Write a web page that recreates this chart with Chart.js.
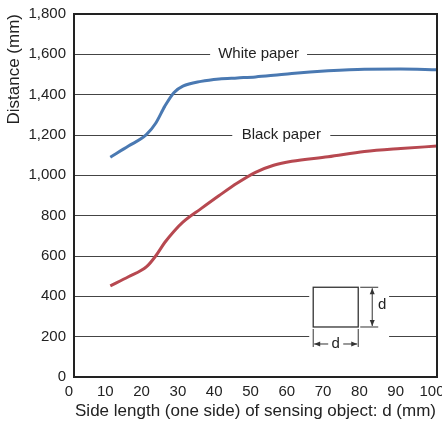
<!DOCTYPE html>
<html>
<head>
<meta charset="utf-8">
<script src="https://cdn.jsdelivr.net/npm/chart.js@4"></script>
<style>
  html, body { margin: 0; padding: 0; background: #fff; }
  #wrap { width: 442px; height: 430px; }
</style>
</head>
<body>
<div id="wrap"><canvas id="myChart" width="442" height="430"></canvas></div>
<script>
// side length d (mm)
const sideLength = [10, 15, 20, 22.5, 25, 27.5, 30, 35, 40, 45, 50, 55, 60, 70, 80, 90, 100];
// sensing distance (mm)
const whitePaper = [1090, 1145, 1203, 1258, 1342, 1410, 1442, 1466, 1478, 1483, 1488, 1496, 1505, 1518, 1526, 1527, 1523];
const blackPaper = [452, 497, 547, 600, 667, 722, 768, 835, 900, 962, 1015, 1050, 1070, 1092, 1118, 1133, 1145];
const xTicks = [0, 10, 20, 30, 40, 50, 60, 70, 80, 90, 100];
const yTicks = [0, 200, 400, 600, 800, 1000, 1200, 1400, 1600, 1800];

const FONT = '"Liberation Sans", Arial, sans-serif';

// labels sitting on gridlines
const lineLabels = [
    {text: 'White paper', value: 1600, from: 37.5, to: 64.2},
    {text: 'Black paper', value: 1200, from: 43.6, to: 70.6},
];

const extras = {
    id: 'extras',
    beforeDatasetsDraw(chart) {
        const {ctx, chartArea: a, scales: {x, y}} = chart;
        ctx.save();
        ctx.fillStyle = '#fff';
        // gaps in gridlines
        lineLabels.forEach(l => {
            const py = y.getPixelForValue(l.value);
            ctx.fillRect(x.getPixelForValue(l.from), py - 3, x.getPixelForValue(l.to) - x.getPixelForValue(l.from), 6);
        });
        [200, 400].forEach(v => {
            const py = y.getPixelForValue(v);
            ctx.fillRect(x.getPixelForValue(64.8), py - 3, x.getPixelForValue(86.8) - x.getPixelForValue(64.8), 6);
        });
        ctx.fillStyle = '#222';
        ctx.font = '15px ' + FONT;
        ctx.textAlign = 'center';
        ctx.textBaseline = 'middle';
        lineLabels.forEach(l => {
            const cx = (x.getPixelForValue(l.from) + x.getPixelForValue(l.to)) / 2;
            ctx.fillText(l.text, cx, y.getPixelForValue(l.value));
        });

        // inset square with dimension d
        const x0 = x.getPixelForValue(65.9), x1 = x.getPixelForValue(78.3);
        const y0 = y.getPixelForValue(445), y1 = y.getPixelForValue(248);
        ctx.strokeStyle = '#333';
        ctx.lineWidth = 1.3;
        ctx.strokeRect(x0, y0, x1 - x0, y1 - y0);
        ctx.lineWidth = 1;
        ctx.beginPath();
        // extension lines
        ctx.moveTo(x1 + 2, y0); ctx.lineTo(x1 + 20, y0);
        ctx.moveTo(x1 + 2, y1); ctx.lineTo(x1 + 20, y1);
        ctx.moveTo(x0, y1 + 2); ctx.lineTo(x0, y1 + 20);
        ctx.moveTo(x1, y1 + 2); ctx.lineTo(x1, y1 + 20);
        // dimension lines
        const vx = x1 + 14;
        ctx.moveTo(vx, y0 + 1); ctx.lineTo(vx, y1 - 1);
        const hy = y1 + 17;
        ctx.moveTo(x0 + 1, hy); ctx.lineTo(x0 + 15, hy);
        ctx.moveTo(x1 - 15, hy); ctx.lineTo(x1 - 1, hy);
        ctx.stroke();
        // arrow heads
        ctx.fillStyle = '#333';
        const tri = (p) => { ctx.beginPath(); ctx.moveTo(p[0], p[1]); ctx.lineTo(p[2], p[3]); ctx.lineTo(p[4], p[5]); ctx.closePath(); ctx.fill(); };
        tri([vx, y0 + 1, vx - 2.5, y0 + 7, vx + 2.5, y0 + 7]);
        tri([vx, y1 - 1, vx - 2.5, y1 - 7, vx + 2.5, y1 - 7]);
        tri([x0 + 1, hy, x0 + 7, hy - 2.5, x0 + 7, hy + 2.5]);
        tri([x1 - 1, hy, x1 - 7, hy - 2.5, x1 - 7, hy + 2.5]);
        ctx.fillStyle = '#222';
        ctx.font = '15px ' + FONT;
        ctx.fillText('d', vx + 10, (y0 + y1) / 2 - 2);
        ctx.fillText('d', (x0 + x1) / 2, hy);
        ctx.restore();
    },
    afterDraw(chart) {
        const {ctx, chartArea: a} = chart;
        ctx.save();
        ctx.strokeStyle = '#222';
        ctx.lineWidth = 2;
        ctx.strokeRect(a.left, a.top, a.right - a.left, a.bottom - a.top);
        ctx.restore();
    }
};

const ctx = document.getElementById('myChart');

const config = {
    type: 'line',
    data: {
        datasets: [
            {
                label: 'White paper',
                data: sideLength.map((d, i) => ({x: d, y: whitePaper[i]})),
                borderColor: 'rgb(74, 121, 178)',
                borderWidth: 3,
                pointRadius: 0,
                fill: false,
                cubicInterpolationMode: 'monotone'
            },
            {
                label: 'Black paper',
                data: sideLength.map((d, i) => ({x: d, y: blackPaper[i]})),
                borderColor: 'rgb(183, 72, 80)',
                borderWidth: 3,
                pointRadius: 0,
                fill: false,
                cubicInterpolationMode: 'monotone'
            }
        ]
    },
    options: {
        responsive: false,
        animation: false,
        layout: {padding: {top: 14, right: 5, left: 0, bottom: 8}},
        plugins: {
            legend: {display: false},
            tooltip: {enabled: false}
        },
        scales: {
            x: {
                type: 'linear',
                min: 0,
                max: 100,
                afterBuildTicks: s => { s.ticks = xTicks.map(v => ({value: v})); },
                afterFit: s => { s.paddingRight = 0; s.paddingLeft = 0; s.height = 45; },
                grid: {display: false, drawTicks: false},
                border: {display: false},
                ticks: {
                    color: '#222',
                    padding: 6,
                    labelOffset: -5,
                    maxRotation: 0,
                    font: {family: FONT, size: 15}
                },
                title: {
                    display: true,
                    text: 'Side length (one side) of sensing object: d (mm)',
                    color: '#222',
                    font: {family: FONT, size: 17},
                    padding: {top: 0, bottom: 0}
                }
            },
            y: {
                min: 0,
                max: 1800,
                afterBuildTicks: s => { s.ticks = yTicks.map(v => ({value: v})); },
                afterFit: s => { s.paddingTop = 0; s.paddingBottom = 0; s.width = 74; },
                grid: {color: '#444', lineWidth: 1, drawTicks: false},
                border: {display: false},
                ticks: {
                    color: '#222',
                    padding: 8,
                    font: {family: FONT, size: 15},
                    callback: v => v.toLocaleString('en-US')
                },
                title: {
                    display: true,
                    align: 'end',
                    text: 'Distance (mm)',
                    color: '#222',
                    font: {family: FONT, size: 17},
                    padding: {top: 4, bottom: 0}
                }
            }
        }
    },
    plugins: [extras]
};

new Chart(ctx, config);
</script>
</body>
</html>
